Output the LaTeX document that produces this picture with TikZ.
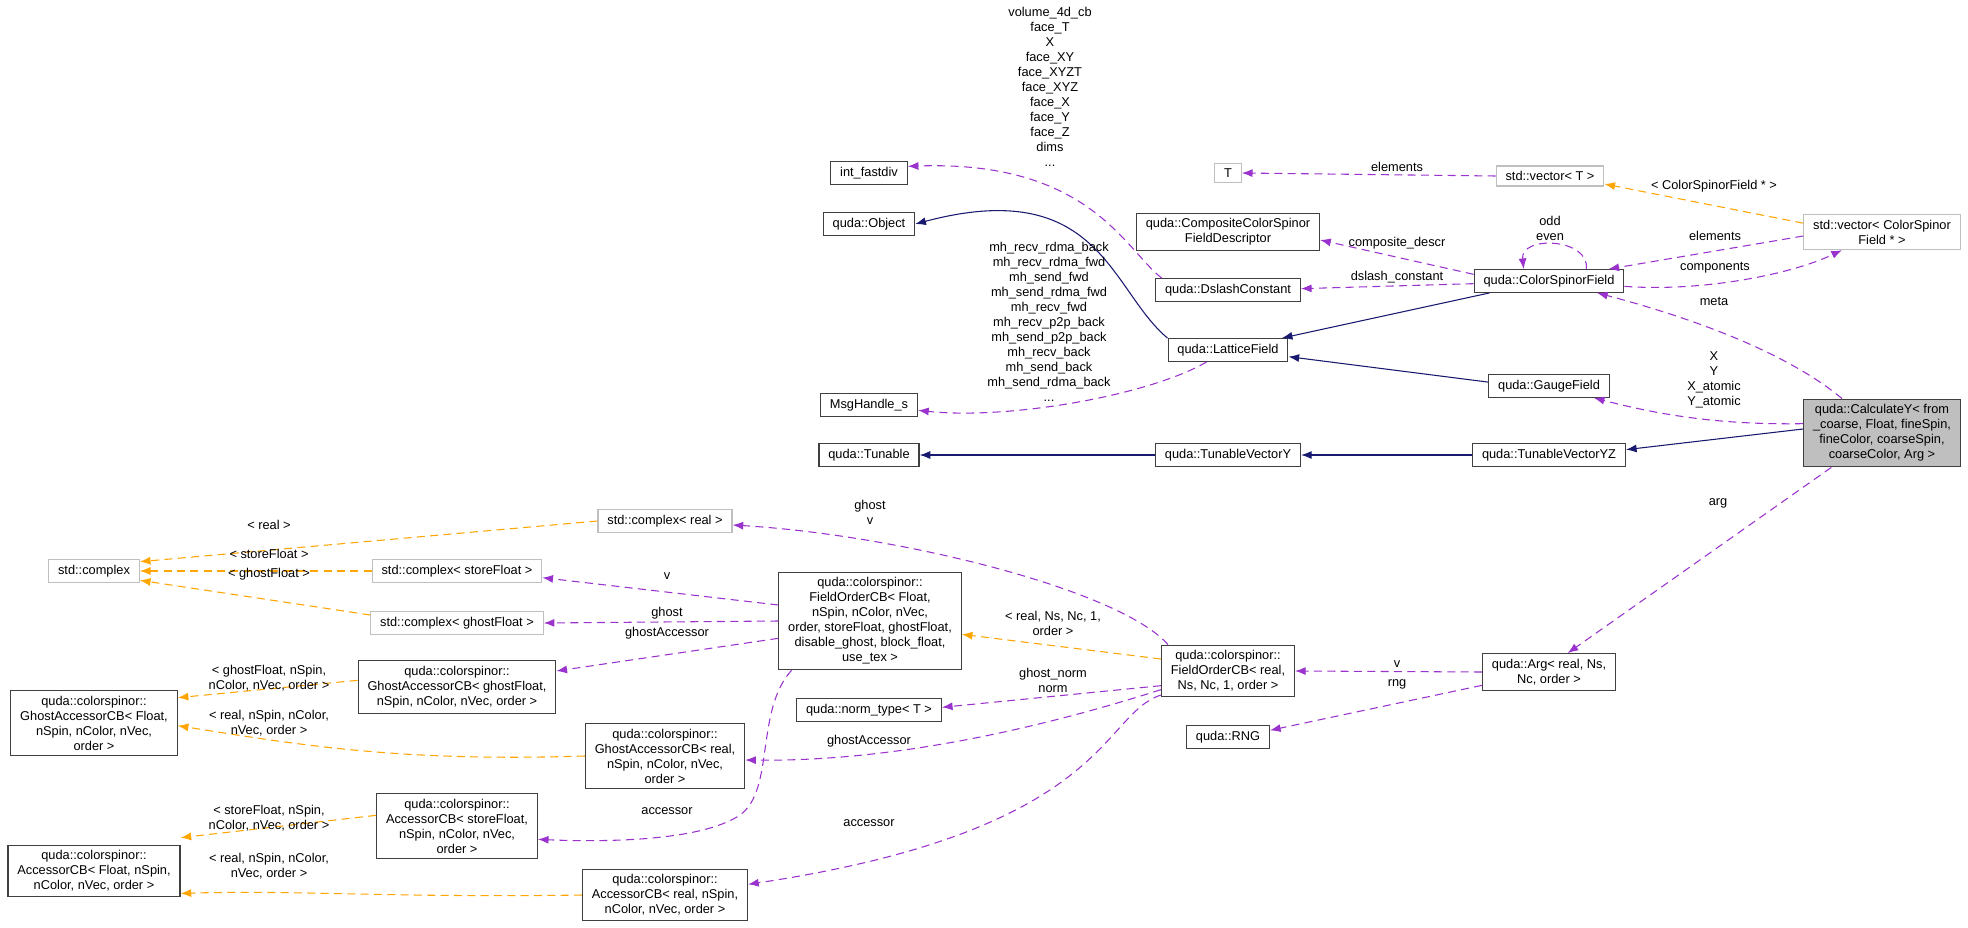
\documentclass[tikz,border=0pt]{standalone}
\usepackage{fontspec}
\setmainfont{Liberation Sans}
\usetikzlibrary{arrows.meta}

\definecolor{navyarrow}{HTML}{191970}
\definecolor{orchid}{HTML}{9A32CD}
\definecolor{tmplorange}{HTML}{FFA500}
\definecolor{extgray}{HTML}{BFBFBF}

\tikzset{
    txt/.style={font=\fontsize{9.6}{11.25}\selectfont, align=center},
    cls/.style={txt, draw=black!75, line width=0.9pt, inner xsep=7pt, inner ysep=4pt},
    ext/.style={cls, draw=extgray},
    main/.style={cls, fill=extgray},
    lbl/.style={txt, inner sep=0pt},
    tip/.style={-{Latex[length=8pt,width=6pt]}},
    inh/.style={tip, draw=navyarrow, line width=0.8pt},
    use/.style={tip, draw=orchid, line width=0.8pt, dash pattern=on 6pt off 4pt},
    tmpl/.style={tip, draw=tmplorange, line width=0.8pt, dash pattern=on 6pt off 4pt},
}

\begin{document}
\begin{tikzpicture}[x=0.75pt, y=-0.75pt]

    \useasboundingbox (0,0) rectangle (1968,928);

    % Top right: the field classes
    \node[ext] (t) at (1228,173) {T};
    \node[ext] (vect) at (1550,176) {std::vector\textless{} T \textgreater{}};
    \node[ext] (vecfield) at (1882,232) {std::vector\textless{} ColorSpinor\\Field * \textgreater{}};
    \node[cls] (compdesc) at (1228,232) {quda::CompositeColorSpinor\\FieldDescriptor};
    \node[cls] (dslash) at (1228,290) {quda::DslashConstant};
    \node[cls] (csfield) at (1549,281) {quda::ColorSpinorField};
    \node[cls] (lattice) at (1228,350) {quda::LatticeField};
    \node[cls] (gauge) at (1549,386) {quda::GaugeField};
    \node[cls] (tvy) at (1228,455) {quda::TunableVectorY};
    \node[cls] (tvyz) at (1549,455) {quda::TunableVectorYZ};
    \node[main] (calcy) at (1882,433) {quda::CalculateY\textless{} from\\\_coarse, Float, fineSpin,\\fineColor, coarseSpin,\\coarseColor, Arg \textgreater{}};

    % Middle column
    \node[cls] (fastdiv) at (869,173) {int\_fastdiv};
    \node[cls] (object) at (869,224) {quda::Object};
    \node[cls] (msghandle) at (869,405) {MsgHandle\_s};
    \node[cls] (tunable) at (869,455) {quda::Tunable};

    % Argument and accessor classes
    \node[cls] (arg) at (1549,672) {quda::Arg\textless{} real, Ns,\\Nc, order \textgreater{}};
    \node[cls] (rng) at (1228,737) {quda::RNG};
    \node[cls] (fieldreal) at (1228,671) {quda::colorspinor::\\FieldOrderCB\textless{} real,\\Ns, Nc, 1, order \textgreater{}};
    \node[cls] (normtype) at (869,710) {quda::norm\_type\textless{} T \textgreater{}};
    \node[cls] (fieldfloat) at (870,621) {quda::colorspinor::\\FieldOrderCB\textless{} Float,\\nSpin, nColor, nVec,\\order, storeFloat, ghostFloat,\\disable\_ghost, block\_float,\\use\_tex \textgreater{}};
    \node[ext] (cplxreal) at (665,521) {std::complex\textless{} real \textgreater{}};
    \node[cls] (gaccreal) at (665,756) {quda::colorspinor::\\GhostAccessorCB\textless{} real,\\nSpin, nColor, nVec,\\order \textgreater{}};
    \node[cls] (accreal) at (665,895) {quda::colorspinor::\\AccessorCB\textless{} real, nSpin,\\nColor, nVec, order \textgreater{}};
    \node[ext] (cplxstore) at (457,571) {std::complex\textless{} storeFloat \textgreater{}};
    \node[ext] (cplxghost) at (457,623) {std::complex\textless{} ghostFloat \textgreater{}};
    \node[cls] (gaccghost) at (457,687) {quda::colorspinor::\\GhostAccessorCB\textless{} ghostFloat,\\nSpin, nColor, nVec, order \textgreater{}};
    \node[cls] (accstore) at (457,826) {quda::colorspinor::\\AccessorCB\textless{} storeFloat,\\nSpin, nColor, nVec,\\order \textgreater{}};

    % Left column
    \node[ext] (cplx) at (94,571) {std::complex};
    \node[cls] (gaccfloat) at (94,723) {quda::colorspinor::\\GhostAccessorCB\textless{} Float,\\nSpin, nColor, nVec,\\order \textgreater{}};
    \node[cls] (accfloat) at (94,871) {quda::colorspinor::\\AccessorCB\textless{} Float, nSpin,\\nColor, nVec, order \textgreater{}};

    % Inheritance
    \draw[inh] (lattice.north west) .. controls (1110,290) and (1100,175) .. (object.east);
    \draw[inh] ([xshift=12pt]csfield.south west) -- ([xshift=-5pt]lattice.north east);
    \draw[inh] ([yshift=-6pt]gauge.north west) -- ([yshift=-5pt]lattice.east);
    \draw[inh] (tvy) -- (tunable);
    \draw[inh] (tvyz) -- (tvy);
    \draw[inh] ([yshift=3pt]calcy.west) -- ([yshift=4pt]tvyz.east);

    % Members of the field classes
    \draw[use] ([xshift=5pt]dslash.north west) .. controls (1125,250) and (1090,160) .. ([yshift=5pt]fastdiv.east);
    \draw[use] ([xshift=-16pt]lattice.south) .. controls (1150,395) and (1010,420) .. ([yshift=-4pt]msghandle.east);
    \draw[use] ([yshift=5pt]csfield.west) -- ([yshift=-6pt]compdesc.east);
    \draw[use] ([yshift=-2pt]csfield.west) -- ([yshift=1pt]dslash.east);
    \draw[use] ([xshift=28pt]csfield.north) .. controls (1590,238) and (1520,235) .. ([xshift=-19pt]csfield.north);
    \draw[use] ([yshift=-4pt]csfield.east) .. controls (1700,292) and (1790,275) .. ([xshift=-30pt]vecfield.south);
    \draw[use] ([yshift=-3pt]vecfield.west) -- ([xshift=-12pt]csfield.north east);
    \draw[use] (vect.west) -- (t.east);
    \draw[tmpl] ([yshift=-7pt]vecfield.north west) -- ([yshift=-6pt]vect.east);
    \draw[use] ([xshift=-30pt]calcy.north) .. controls (1790,355) and (1700,320) .. ([xshift=36pt]csfield.south);
    \draw[use] ([yshift=7pt]calcy.west) .. controls (1720,425) and (1660,415) .. ([xshift=-12pt]gauge.south east);
    \draw[use] ([xshift=-38pt]calcy.south) -- ([xshift=14pt]arg.north);

    % Labels of the field members
    \node[lbl] (lvolume) at (1050,87) {volume\_4d\_cb\\face\_T\\X\\face\_XY\\face\_XYZT\\face\_XYZ\\face\_X\\face\_Y\\face\_Z\\dims\\...};
    \node[lbl] (lmh) at (1049,322) {mh\_recv\_rdma\_back\\mh\_recv\_rdma\_fwd\\mh\_send\_fwd\\mh\_send\_rdma\_fwd\\mh\_recv\_fwd\\mh\_recv\_p2p\_back\\mh\_send\_p2p\_back\\mh\_recv\_back\\mh\_send\_back\\mh\_send\_rdma\_back\\...};
    \node[lbl] (lcomp) at (1397,243) {composite\_descr};
    \node[lbl] (ldslash) at (1397,277) {dslash\_constant};
    \node[lbl] (loddeven) at (1550,228) {odd\\even};
    \node[lbl] (lelemt) at (1397,167) {elements};
    \node[lbl] (lvecarg) at (1714,186) {\textless{} ColorSpinorField * \textgreater{}};
    \node[lbl] (lelem) at (1715,236) {elements};
    \node[lbl] (lcomps) at (1715,268) {components};
    \node[lbl] (lmeta) at (1714,301) {meta};
    \node[lbl] (lxy) at (1714,380) {X\\Y\\X\_atomic\\Y\_atomic};
    \node[lbl] (larg) at (1718,503) {arg};

    % Members of the argument and accessor classes
    \draw[use] (arg.west) -- (fieldreal.east);
    \draw[use] ([yshift=-10pt]arg.west) -- ([yshift=5pt]rng.east);
    \draw[use] ([xshift=-45pt]fieldreal.north) .. controls (1120,590) and (900,535) .. ([yshift=-3pt]cplxreal.east);
    \draw[tmpl] ([yshift=9pt]fieldreal.west) -- ([yshift=-10pt]fieldfloat.east);
    \draw[use] ([yshift=-11pt]fieldreal.west) -- ([yshift=2pt]normtype.east);
    \draw[use] ([yshift=-14pt]fieldreal.west) .. controls (1050,725) and (900,762) .. ([yshift=-3pt]gaccreal.east);
    \draw[use] ([yshift=-18pt]fieldreal.west) .. controls (1100,715) and (1110,830) .. ([yshift=8pt]accreal.east);
    \draw[use] ([yshift=12pt]fieldfloat.west) -- ([yshift=-5pt]cplxstore.east);
    \draw[use] (fieldfloat.west) -- (cplxghost.east);
    \draw[use] ([yshift=-13pt]fieldfloat.west) -- ([yshift=12pt]gaccghost.east);
    \draw[use] ([xshift=10pt]fieldfloat.south west) .. controls (755,710) and (775,790) .. (740,815) .. controls (700,842) and (600,842) .. ([yshift=-10pt]accstore.east);

    % Template instances
    \draw[tmpl] (cplxreal.west) -- ([yshift=7pt]cplx.east);
    \draw[tmpl] (cplxstore.west) -- (cplx.east);
    \draw[tmpl] ([yshift=6pt]cplxghost.west) -- ([yshift=-7pt]cplx.east);
    \draw[tmpl] ([yshift=5pt]gaccghost.west) -- ([yshift=19pt]gaccfloat.east);
    \draw[tmpl] (gaccreal.west) .. controls (400,762) and (300,745) .. ([yshift=-2pt]gaccfloat.east);
    \draw[tmpl] ([yshift=8pt]accstore.west) -- ([yshift=25pt]accfloat.east);
    \draw[tmpl] (accreal.west) .. controls (400,898) and (300,890) .. ([yshift=3pt]accfloat.south east);

    % Labels of the accessor members
    \node[lbl] (lrv) at (1397,664) {v};
    \node[lbl] (lrng) at (1397,684) {rng};
    \node[lbl] (lghostv) at (870,512) {ghost\\v};
    \node[lbl] (lrealns) at (1053,623) {\textless{} real, Ns, Nc, 1,\\order \textgreater{}};
    \node[lbl] (lnorm) at (1053,680) {ghost\_norm\\norm};
    \node[lbl] (lgaccr) at (869,741) {ghostAccessor};
    \node[lbl] (laccr) at (869,823) {accessor};
    \node[lbl] (lfv) at (667,576) {v};
    \node[lbl] (lfghost) at (667,613) {ghost};
    \node[lbl] (lfgacc) at (667,633) {ghostAccessor};
    \node[lbl] (lfacc) at (667,811) {accessor};
    \node[lbl] (lreal) at (269,525) {\textless{} real \textgreater{}};
    \node[lbl] (lstore) at (269,554) {\textless{} storeFloat \textgreater{}};
    \node[lbl] (lghost) at (269,574) {\textless{} ghostFloat \textgreater{}};
    \node[lbl] (lgaccg) at (269,678) {\textless{} ghostFloat, nSpin,\\nColor, nVec, order \textgreater{}};
    \node[lbl] (lgaccr2) at (269,723) {\textless{} real, nSpin, nColor,\\nVec, order \textgreater{}};
    \node[lbl] (laccs) at (269,818) {\textless{} storeFloat, nSpin,\\nColor, nVec, order \textgreater{}};
    \node[lbl] (laccr2) at (269,866) {\textless{} real, nSpin, nColor,\\nVec, order \textgreater{}};

\end{tikzpicture}
\end{document}
